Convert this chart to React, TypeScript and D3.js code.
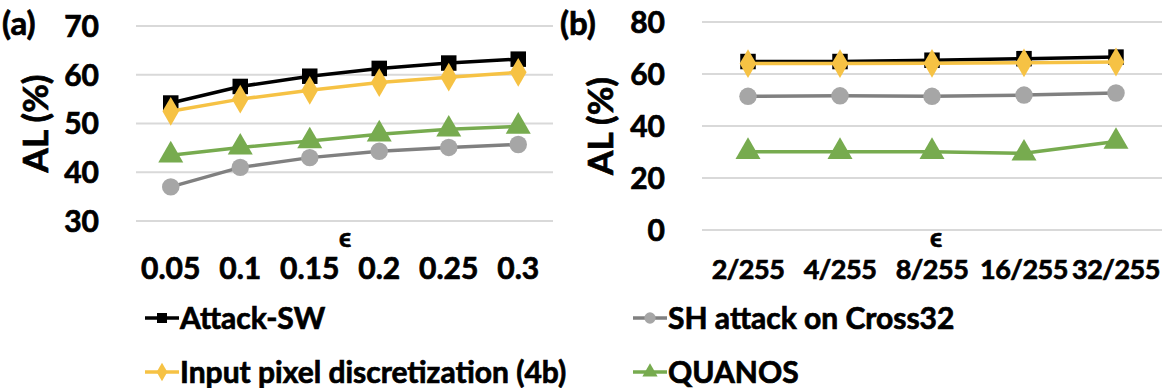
import React, { useEffect, useRef } from "react";
import * as d3 from "d3";

const epsA = ["0.05", "0.1", "0.15", "0.2", "0.25", "0.3"];
const epsB = ["2/255", "4/255", "8/255", "16/255", "32/255"];

const attackSwA = [54.2, 57.6, 59.7, 61.3, 62.4, 63.2];
const shCrossA = [37.0, 41.0, 43.0, 44.3, 45.1, 45.7];
const pixelDiscA = [52.5, 55.0, 56.8, 58.4, 59.5, 60.5];
const quanosA = [43.5, 45.1, 46.4, 47.8, 48.8, 49.4];

const attackSwB = [64.8, 64.8, 65.3, 65.9, 66.5];
const shCrossB = [51.4, 51.6, 51.4, 51.9, 52.7];
const pixelDiscB = [64.0, 64.0, 64.1, 64.3, 64.6];
const quanosB = [30.1, 30.1, 30.1, 29.5, 34.0];

const ticksA = [30, 40, 50, 60, 70];
const ticksB = [0, 20, 40, 60, 80];

const seriesNames = [
  "Attack-SW",
  "SH attack on Cross32",
  "Input pixel discretization (4b)",
  "QUANOS",
];

const FONT = "Lato, 'Open Sans', sans-serif";

type Style = { line: string; fill: string; shape: string };
const styles: Style[] = [
  { line: "#000000", fill: "#000000", shape: "square" },
  { line: "#808080", fill: "#a6a6a6", shape: "circle" },
  { line: "#f6c244", fill: "#f6c244", shape: "diamond" },
  { line: "#77ab4f", fill: "#77ab4f", shape: "triangle" },
];

const symbolFor = (shape: string, size: number) => {
  const t =
    shape === "square"
      ? d3.symbolSquare
      : shape === "circle"
      ? d3.symbolCircle
      : shape === "diamond"
      ? d3.symbolDiamond
      : d3.symbolTriangle;
  return d3.symbol().type(t).size(size)();
};

// bold text, thickened a little with a stroke so it reads like the heavy original
const boldText = (sel: any, size: number) =>
  sel
    .attr("font-family", FONT)
    .attr("font-weight", 700)
    .attr("font-size", size)
    .attr("fill", "#000")
    .attr("stroke", "#000")
    .attr("stroke-width", 0.7);

const App = () => {
  const ref = useRef<SVGSVGElement>(null);

  useEffect(() => {
    const svg = d3.select(ref.current);
    svg.selectAll("*").remove();

    const drawPanel = (
      cats: string[],
      data: number[][],
      ticks: number[],
      xr: [number, number],
      yr: [number, number],
      tag: string,
      tagX: number,
      alX: number,
      epsX: number,
      tickFont: number,
      tickSpacing: number
    ) => {
      const x = d3.scalePoint().domain(cats).range(xr).padding(0.5);
      const y = d3
        .scaleLinear()
        .domain([ticks[0], ticks[ticks.length - 1]])
        .range(yr);
      const g = svg.append("g");

      g.selectAll("line.grid")
        .data(ticks)
        .enter()
        .append("line")
        .attr("x1", xr[0])
        .attr("x2", xr[1])
        .attr("y1", (d) => y(d))
        .attr("y2", (d) => y(d))
        .attr("stroke", "#d9d9d9")
        .attr("stroke-width", 2);

      boldText(
        g.selectAll("text.ytick")
          .data(ticks)
          .enter()
          .append("text")
          .attr("x", xr[0] - 37)
          .attr("y", (d) => y(d))
          .attr("dy", "0.36em")
          .attr("text-anchor", "end"),
        30
      ).text((d: number) => d);

      boldText(
        g.selectAll("text.xtick")
          .data(cats)
          .enter()
          .append("text")
          .attr("x", (d) => x(d)!)
          .attr("y", 279)
          .attr("text-anchor", "middle")
          .attr("letter-spacing", tickSpacing),
        tickFont
      ).text((d: string) => d);

      boldText(
        g.append("text")
          .attr("x", epsX)
          .attr("y", 247)
          .attr("text-anchor", "middle"),
        26
      ).text("ϵ");

      boldText(
        g.append("text")
          .attr("transform", `translate(${alX},${(yr[0] + yr[1]) / 2}) rotate(-90)`)
          .attr("text-anchor", "middle")
          .attr("dy", "0.36em"),
        35
      ).text("AL (%)");

      boldText(g.append("text").attr("x", tagX).attr("y", 35), 33).text(tag);

      const line = d3
        .line<number>()
        .x((_, i) => x(cats[i])!)
        .y((d) => y(d));

      // gray and green underneath, black then yellow on top
      [1, 3, 0, 2].forEach((si) => {
        const s = styles[si];
        g.append("path")
          .datum(data[si])
          .attr("d", line)
          .attr("fill", "none")
          .attr("stroke", s.line)
          .attr("stroke-width", 3.5);
        g.selectAll(null)
          .data(data[si])
          .enter()
          .append("path")
          .attr("d", symbolFor(s.shape, s.shape === "triangle" ? 270 : 240))
          .attr("transform", (d, i) => `translate(${x(cats[i])},${y(d)})`)
          .attr("fill", s.fill);
      });
    };

    drawPanel(
      epsA,
      [attackSwA, shCrossA, pixelDiscA, quanosA],
      ticksA,
      [136, 553],
      [221, 26],
      "(a)",
      2,
      35,
      345,
      30,
      0
    );
    drawPanel(
      epsB,
      [attackSwB, shCrossB, pixelDiscB, quanosB],
      ticksB,
      [702, 1162],
      [230, 22],
      "(b)",
      560,
      600,
      936,
      27,
      -0.5
    );

    // legend
    const legendPos = [
      [145, 318],
      [633, 318],
      [145, 372],
      [633, 372],
    ];
    seriesNames.forEach((name, i) => {
      const [lx, ly] = legendPos[i];
      const s = styles[i];
      const lg = svg.append("g").attr("transform", `translate(${lx},${ly})`);
      lg.append("line")
        .attr("x1", 0)
        .attr("x2", 34)
        .attr("y1", 0)
        .attr("y2", 0)
        .attr("stroke", s.line)
        .attr("stroke-width", 3.5);
      lg.append("path")
        .attr("d", symbolFor(s.shape, 100))
        .attr("transform", "translate(17,0)")
        .attr("fill", s.fill);
      boldText(
        lg.append("text").attr("x", 35).attr("y", 0).attr("dy", "0.36em"),
        30
      ).text(name);
    });
  }, []);

  return (
    <svg
      ref={ref}
      width={1164}
      height={388}
      style={{ position: "absolute", left: 0, top: 0, background: "#fff" }}
    />
  );
};

export default App;
